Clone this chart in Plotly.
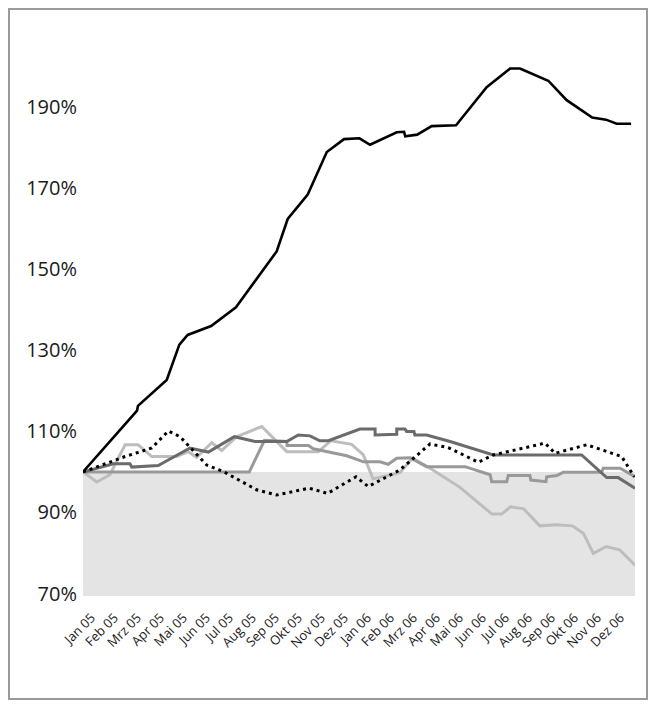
import plotly.graph_objects as go

# x positions are in months since Jan 2005 (0 = start of Jan 05, 24 = end of Dez 06)
month_labels = ["Jan 05", "Feb 05", "Mrz 05", "Apr 05", "Mai 05", "Jun 05", "Jul 05", "Aug 05",
                "Sep 05", "Okt 05", "Nov 05", "Dez 05", "Jan 06", "Feb 06", "Mrz 06", "Apr 06",
                "Mai 06", "Jun 06", "Jul 06", "Aug 06", "Sep 06", "Okt 06", "Nov 06", "Dez 06"]
month_ticks = list(range(24))
y_ticks = [70, 90, 110, 130, 150, 170, 190]
y_tick_labels = ["70%", "90%", "110%", "130%", "150%", "170%", "190%"]

black_x = [0, 2.35, 2.39, 3.64, 4.19, 4.55, 5.57, 6.65, 8.42, 8.90, 9.77, 10.60, 11.35, 12.02,
           12.48, 13.64, 13.96, 14.01, 14.53, 15.16, 16.22, 17.55, 18.57, 19.0, 20.23, 21.03,
           22.14, 22.74, 23.20, 23.83]
black_y = [100, 115.1, 116.3, 122.7, 131.4, 133.8, 136.0, 140.6, 154.4, 162.4, 168.4, 178.9,
           182.1, 182.3, 180.7, 183.8, 183.9, 182.8, 183.2, 185.3, 185.5, 194.9, 199.5, 199.5,
           196.5, 191.7, 187.4, 186.9, 185.9, 185.9]

dotted_x = [0, 1.83, 2.99, 3.71, 4.22, 5.38, 6.10, 7.55, 8.42, 9.83, 10.63, 11.87, 12.40, 13.78,
            15.09, 15.88, 17.19, 17.84, 20.09, 20.52, 21.90, 23.42, 23.97]
dotted_y = [100, 103.8, 105.9, 110.1, 108.7, 101.7, 100.1, 95.6, 94.3, 96.0, 94.7, 98.8, 96.4,
            100.5, 106.9, 106.0, 102.4, 104.2, 107.1, 104.6, 106.7, 103.8, 98.8]

dark_x = [0, 1.32, 2.04, 2.12, 3.27, 4.65, 5.45, 6.58, 7.48, 8.86, 9.36, 9.87, 10.30, 10.67,
          12.04, 12.70, 12.70, 13.64, 13.64, 14.0, 14.07, 14.39, 14.43, 14.94, 15.96, 17.84,
          21.68, 22.77, 23.27, 24.0]
dark_y = [100, 102.0, 102.0, 101.2, 101.6, 105.9, 104.9, 108.7, 107.5, 107.5, 109.1, 108.9,
          107.7, 107.7, 110.6, 110.6, 109.1, 109.3, 110.6, 110.6, 110.0, 110.0, 109.1, 109.1,
          107.5, 104.2, 104.2, 98.6, 98.6, 96.0]

mid_x = [0, 7.23, 7.89, 8.86, 8.87, 9.80, 10.01, 11.47, 12.19, 12.91, 13.27, 13.64, 14.22, 14.94,
         16.61, 17.70, 17.77, 18.42, 18.49, 19.43, 19.47, 20.13, 20.16, 20.60, 20.88, 22.55,
         22.62, 23.35, 24.0]
mid_y = [100, 100, 107.8, 107.5, 106.5, 106.5, 105.7, 104.0, 102.5, 102.5, 101.9, 103.4, 103.5,
         101.3, 101.3, 99.3, 97.6, 97.6, 99.1, 99.1, 98.0, 97.6, 98.8, 99.1, 99.9, 99.9, 100.9,
         100.9, 98.8]

light_x = [0, 0.60, 1.17, 1.83, 2.40, 2.99, 4.07, 4.58, 4.94, 5.60, 6.03, 6.68, 7.77, 8.86,
           10.23, 10.78, 11.68, 12.19, 12.61, 13.78, 14.33, 15.09, 16.39, 17.78, 18.20, 18.59,
           19.16, 19.86, 20.60, 21.28, 21.75, 22.19, 22.75, 23.33, 24.0]
light_y = [100, 97.5, 99.3, 106.7, 106.7, 103.8, 103.8, 105.0, 103.6, 107.2, 105.3, 108.7, 111.2,
           105.0, 105.0, 107.7, 106.8, 104.2, 98.3, 99.8, 103.4, 100.9, 96.2, 89.6, 89.6, 91.4,
           90.9, 86.7, 87.0, 86.7, 84.9, 79.9, 81.6, 80.8, 77.0]

y_min, y_max = 69.4, 210
x_min, x_max = 0, 24
baseline = 100
label_shift = 0.37  # month labels sit slightly right of the month start

fig = go.Figure()

series = [
    (light_x, light_y, "#bdbdbd", 3, "solid"),
    (mid_x, mid_y, "#999999", 3, "solid"),
    (dark_x, dark_y, "#6b6b6b", 3, "solid"),
    (dotted_x, dotted_y, "#000000", 3, "3px,4px"),
    (black_x, black_y, "#000000", 2.6, "solid"),
]
for xs, ys, col, w, dash in series:
    fig.add_trace(go.Scatter(x=xs, y=ys, mode="lines",
                             line=dict(color=col, width=w, dash=dash),
                             hoverinfo="skip", showlegend=False))

# shaded region below 100 %
fig.add_shape(type="rect", xref="x", yref="y", x0=x_min, x1=x_max, y0=y_min, y1=baseline,
              fillcolor="#e4e4e4", line=dict(width=0), layer="below")

W, H = 640, 692
ml, mr, mt, mb = 75, 13, 18, 104
pw, ph = W - ml - mr, H - mt - mb
# outer frame along the figure edges
fig.add_shape(type="rect", xref="paper", yref="paper",
              x0=(1 - ml) / pw, x1=(W - 1 - ml) / pw,
              y0=(ph - (H - 1 - mt)) / ph, y1=(ph - (1 - mt)) / ph,
              line=dict(color="#9a9a9a", width=2), fillcolor="rgba(0,0,0,0)")

fig.update_layout(
    width=W, height=H, autosize=False,
    margin=dict(l=ml, r=mr, t=mt, b=mb, pad=0, autoexpand=False),
    paper_bgcolor="white", plot_bgcolor="white",
    font=dict(family="Open Sans", color="#1a1a1a"),
    xaxis=dict(range=[x_min, x_max], tickmode="array",
               tickvals=[t + label_shift for t in month_ticks], ticktext=month_labels,
               tickangle=-45, showgrid=False, zeroline=False, showline=False, automargin=False,
               ticks="outside", ticklen=8, tickcolor="rgba(0,0,0,0)",
               tickfont=dict(size=13, family="Open Sans", color="#1a1a1a")),
    yaxis=dict(range=[y_min, y_max], tickmode="array", tickvals=y_ticks, ticktext=y_tick_labels,
               showgrid=False, zeroline=False, showline=False, automargin=False,
               ticks="outside", ticklen=1, tickcolor="rgba(0,0,0,0)",
               tickfont=dict(size=20, family="Open Sans", color="#1a1a1a")),
)

fig.write_html("out.html")
